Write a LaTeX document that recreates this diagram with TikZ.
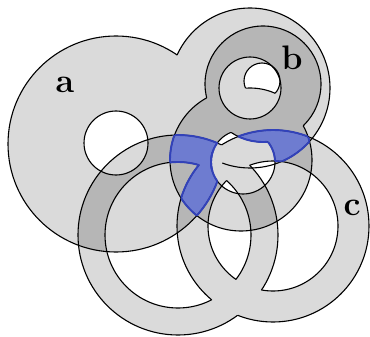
\documentclass[tikz,border=0pt]{standalone}
\usepackage{tikz}
\definecolor{lightg}{RGB}{218,218,218}
\definecolor{darkg}{RGB}{182,182,182}
\definecolor{bluef}{RGB}{110,124,208}
\definecolor{bluel}{RGB}{50,66,186}
\newcommand{\pA}{(116,144) circle (108)}
\newcommand{\pAh}{(116,143) circle (32)}
\newcommand{\pL}{(250,88) circle (80)}
\newcommand{\pW}{(262,81) circle (18)}
\newcommand{\pWb}{(250,150) circle (62)}
\newcommand{\pS}{(250,88) circle (31)}
\newcommand{\pU}{(263,84) circle (58)}
\newcommand{\pD}{(241,160) circle (71)}
\newcommand{\pT}{(243,162) circle (32)}
\newcommand{\pCLo}{(178,235) circle (100)}
\newcommand{\pCLi}{(178,235) circle (73)}
\newcommand{\pCRo}{(273,226) circle (96)}
\newcommand{\pCRi}{(273,226) circle (65)}
\newcommand{\pBig}{(-100,-100) rectangle (500,500)}
\newcommand{\eoclip}[1]{\pgfseteorule\clip #1;\pgfsetnonzerorule}
\newcommand{\clipout}[1]{\eoclip{\pBig #1}}
\newcommand{\clipa}{\clipout{\pAh}\clip \pA \pL;}
\newcommand{\clipb}{\clipout{\pS}\clip \pU \pD;}
\newcommand{\clipcl}{\clip \pCLo; \clipout{\pCLi}}
\newcommand{\clipcr}{\clip \pCRo; \clipout{\pCRi}}
\newcommand{\fillc}[1]{\fill[#1,even odd rule] \pCLo \pCLi; \fill[#1,even odd rule] \pCRo \pCRi;}
% blue outline pieces, #1 = extra clip that keeps away from the hole T minus U
\newcommand{\bstrokes}[1]{%
\begin{scope}\clipb\clipcl#1\clipout{\pL}\draw[bout] \pA;\end{scope}
\begin{scope}\clipb\clipcr#1\clipout{\pL}\draw[bout] \pA;\end{scope}
\begin{scope}\clipb\clipcl#1\clipout{\pA}\draw[bout] \pL;\end{scope}
\begin{scope}\clipb\clipcr#1\clipout{\pA}\draw[bout] \pL;\end{scope}
\begin{scope}\clipa\clipcl#1\clipout{\pU}\draw[bout] \pD;\end{scope}
\begin{scope}\clipa\clipcr#1\clipout{\pU}\draw[bout] \pD;\end{scope}
\begin{scope}\clipa\clipb#1\eoclip{\pBig \pCRo \pCRi}\draw[bout] \pCLo \pCLi;\end{scope}
\begin{scope}\clipa\clipb#1\eoclip{\pBig \pCLo \pCLi}\draw[bout] \pCRo \pCRi;\end{scope}}
\begin{document}
\begin{tikzpicture}[x=1pt,y=-1pt,
  outl/.style={draw=black,line width=1.1pt},
  bout/.style={draw=bluel,line width=1.9pt,line join=round},
  lab/.style={font=\fontsize{34}{40}\selectfont\bfseries,inner sep=0pt}]
\useasboundingbox (0,0) rectangle (370,337);
\fill[white] (0,0) rectangle (370,337);
% single coverage
\begin{scope}\clipout{\pAh}\fill[lightg] \pA \pL;\end{scope}
\begin{scope}\clipout{\pS}\fill[lightg] \pU \pD;\end{scope}
\fillc{lightg}
% double coverage
\begin{scope}\clipa\clipb\fill[darkg] \pBig;\end{scope}
\begin{scope}\clipa\fillc{darkg}\end{scope}
\begin{scope}\clipb\fillc{darkg}\end{scope}
% triple coverage
\begin{scope}\clipa\clipb\fillc{bluef}\end{scope}
% holes
\begin{scope}\clipout{\pWb}\fill[white] \pW;\end{scope}
\begin{scope}\clip \pT;\clipout{\pU}\fill[white] \pBig;\fillc{lightg}\end{scope}
% black outlines
\begin{scope}\clipout{\pL}\clipout{\pT}\draw[outl] \pA;\end{scope}
\begin{scope}\clipout{\pA}\draw[outl] \pL;\end{scope}
\draw[outl] \pAh;
\begin{scope}\clipout{\pWb}\draw[outl] \pW;\end{scope}
\begin{scope}\clip \pW;\draw[outl] \pWb;\end{scope}
\begin{scope}\clipout{\pD}\draw[outl] \pU;\end{scope}
\begin{scope}\clip \pT;\draw[outl] \pU;\end{scope}
\begin{scope}\clipout{\pU}\draw[outl] \pD;\end{scope}
\begin{scope}\clipout{\pU}\draw[outl] \pT;\end{scope}
\draw[outl] \pS;
\begin{scope}\eoclip{\pBig \pCRo \pCRi}\draw[outl] \pCLo \pCLi;\end{scope}
\begin{scope}\eoclip{\pBig \pCLo \pCLi}\draw[outl] \pCRo \pCRi;\end{scope}
% blue outline of triple region
\bstrokes{\clipout{\pT}}
\bstrokes{\clip \pT; \clip \pU;}
\begin{scope}\clipa\clipb\clipcl\clipout{\pU}\draw[bout] \pT;\end{scope}
\begin{scope}\clipa\clipb\clipcr\clipout{\pU}\draw[bout] \pT;\end{scope}
\begin{scope}\clipa\clipb\clipcl\clip \pT;\draw[bout] \pU;\end{scope}
\begin{scope}\clipa\clipb\clipcr\clip \pT;\draw[bout] \pU;\end{scope}
% labels
\node[lab] (la) at (65,85) {a};
\node[lab] (lb) at (292,58) {b};
\node[lab] (lc) at (352,208) {c};
\end{tikzpicture}
\end{document}
